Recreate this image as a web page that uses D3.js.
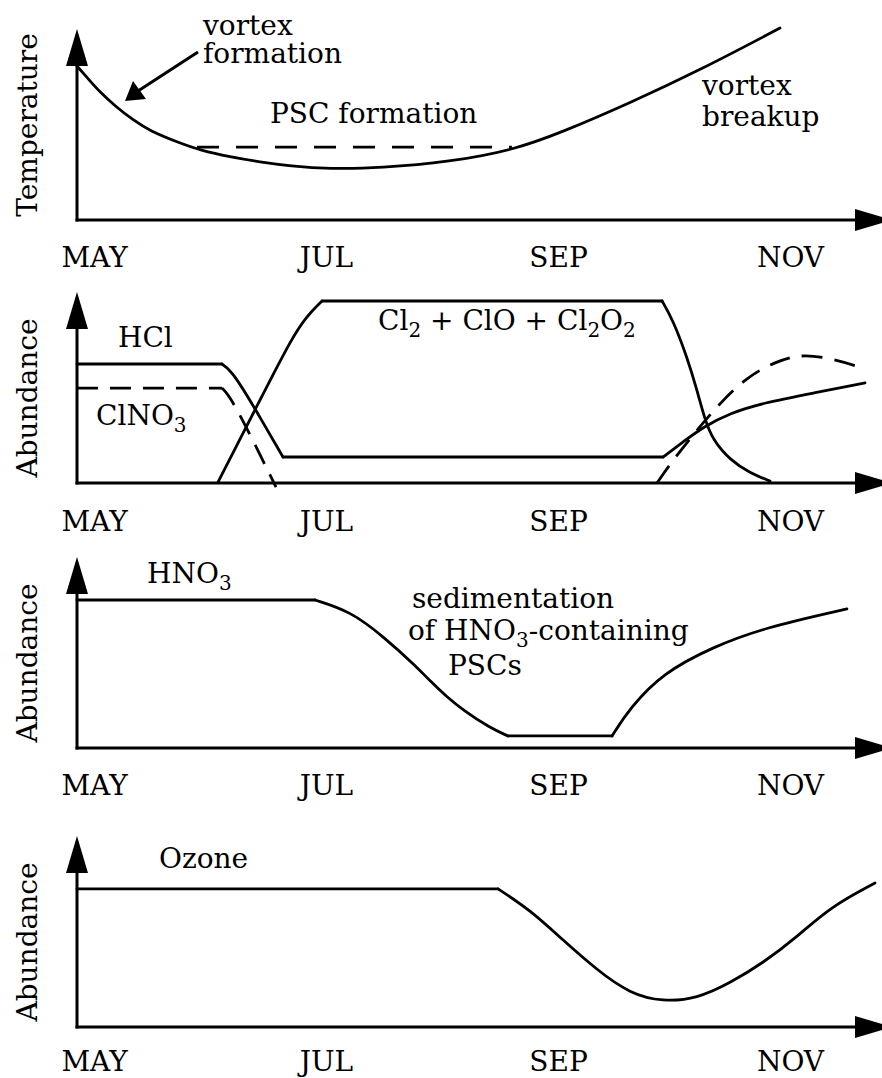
<!DOCTYPE html>
<html>
<head>
<meta charset="utf-8">
<script src="https://cdn.jsdelivr.net/npm/d3@7"></script>
<style>
  body { margin: 0; background: #fff; }
  svg { display: block; }
</style>
</head>
<body>
<script>
// month axis: 0 = MAY ... 6 = NOV
var months = ["MAY", "JUL", "SEP", "NOV"];
var monthTicks = [0, 2, 4, 6];

// each series is a list of pieces, each piece a list of [month, relative value 0..100]
var temperature = [[[-0.147, 80.6], [-0.034, 72.8], [0.052, 67.0], [0.181, 59.7], [0.336, 52.4],
    [0.483, 46.6], [0.741, 40.3], [0.914, 36.6], [1.172, 33.0], [1.431, 30.4], [1.690, 28.3],
    [2.034, 26.7], [2.466, 27.2], [3.069, 30.4], [3.612, 36.6], [4.017, 45.5], [4.621, 61.3],
    [5.224, 78.5], [5.914, 100.5]]];
var pscThreshold = [[[0.888, 38.2], [3.603, 38.2]]];

var hcl = [
    [[-0.147, 62.3], [1.103, 62.3]],
    [[1.103, 62.3], [1.198, 58.1], [1.405, 37.2], [1.629, 13.6]],
    [[1.629, 13.6], [4.905, 13.6]],
    [[4.905, 13.6], [5.078, 21.5], [5.250, 29.3], [5.483, 36.6], [5.767, 41.9], [6.198, 47.1], [6.647, 52.4]]
];
var clno3 = [
    [[-0.147, 49.7], [1.103, 49.7]],
    [[1.103, 49.7], [1.190, 44.5], [1.569, -2.1]],
    [[4.853, 0], [4.991, 12.0], [5.198, 27.7], [5.397, 41.9], [5.629, 55.5],
        [5.871, 63.4], [6.086, 67.5], [6.345, 65.4], [6.629, 60.2]]
];
var activeCl = [
    [[1.069, 0.5], [1.241, 20.9], [1.414, 41.4], [1.560, 58.6], [1.690, 73.8], [1.819, 86.4], [1.966, 95.3]],
    [[1.966, 95.3], [4.897, 95.3]],
    [[4.897, 95.3], [4.991, 85.3], [5.112, 66.0], [5.198, 48.7], [5.267, 33.0], [5.336, 22.5],
        [5.483, 12.0], [5.655, 5.2], [5.828, 1.0]]
];

var hno3 = [
    [[-0.147, 77.5], [1.905, 77.5]],
    [[1.905, 77.5], [2.207, 71.7], [2.491, 58.6], [2.784, 42.4], [2.897, 35.1], [3.043, 26.7],
        [3.181, 19.9], [3.414, 10.5], [3.569, 6.3]],
    [[3.569, 6.3], [4.466, 6.3]],
    [[4.466, 6.3], [4.621, 21.0], [4.905, 39.3], [5.336, 52.9], [5.767, 62.8], [6.491, 72.8]]
];

var ozone = [
    [[-0.147, 72.3], [3.483, 72.3]],
    [[3.483, 72.3], [3.759, 61.3], [4.043, 45.5], [4.336, 29.8], [4.621, 17.4], [4.905, 13.2],
        [5.198, 14.8], [5.483, 23.0], [5.767, 33.5], [6.060, 47.1], [6.345, 62.8], [6.733, 75.4]]
];

var FONT = "DejaVu Serif";
var FS = 28;

var svg = d3.select("body").append("svg")
    .attr("width", 882)
    .attr("height", 1078);

var x = d3.scaleLinear().domain([0, 6]).range([94, 790]);
var x0 = 77;

function panel(axisY, title, titleShift, labelPad) {
    var y = d3.scaleLinear().domain([0, 100]).range([axisY, axisY - 191]);
    var g = svg.append("g");

    // axes with arrow heads
    g.append("line")
        .attr("x1", x0 - 1.5).attr("x2", 860)
        .attr("y1", axisY).attr("y2", axisY)
        .attr("stroke", "#000").attr("stroke-width", 3);
    g.append("line")
        .attr("x1", x0).attr("x2", x0)
        .attr("y1", axisY + 1.5).attr("y2", axisY - 160)
        .attr("stroke", "#000").attr("stroke-width", 3);
    g.append("path")
        .attr("d", "M" + x0 + "," + (axisY - 191) + "L" + (x0 - 11) + "," + (axisY - 154)
            + "L" + (x0 + 11) + "," + (axisY - 154) + "Z")
        .attr("fill", "#000");
    g.append("path")
        .attr("d", "M892," + axisY + "L855," + (axisY - 11) + "L855," + (axisY + 11) + "Z")
        .attr("fill", "#000");

    // month labels
    g.append("g")
        .attr("transform", "translate(0," + axisY + ")")
        .call(d3.axisBottom(x).tickValues(monthTicks)
            .tickFormat(function (d, i) { return months[i]; })
            .tickSize(0).tickPadding(labelPad))
        .call(function (a) { a.select(".domain").remove(); })
        .attr("font-family", FONT)
        .attr("font-size", FS);

    g.append("text")
        .attr("transform", "translate(37," + (axisY - 95 + titleShift) + ") rotate(-90)")
        .attr("text-anchor", "middle")
        .attr("font-family", FONT)
        .attr("font-size", FS)
        .text(title);

    return y;
}

function drawSeries(y, pieces, dash) {
    var line = d3.line()
        .x(function (d) { return x(d[0]); })
        .y(function (d) { return y(d[1]); })
        .curve(d3.curveBasis);
    svg.append("g")
        .selectAll("path")
        .data(pieces)
        .enter().append("path")
        .attr("d", line)
        .attr("fill", "none")
        .attr("stroke", "#000")
        .attr("stroke-width", 2.8)
        .attr("stroke-linecap", dash ? "butt" : "round")
        .attr("stroke-linejoin", "round")
        .attr("stroke-dasharray", dash || null);
}

function label(px, py, parts) {
    var t = svg.append("text")
        .attr("x", px).attr("y", py)
        .attr("font-family", FONT)
        .attr("font-size", FS);
    var shift = 0;
    parts.forEach(function (p) {
        if (typeof p === "string") {
            t.append("tspan").attr("dy", shift ? -shift : null).text(p);
            shift = 0;
        } else {
            t.append("tspan").attr("dy", 7).attr("font-size", 20).text(p.sub);
            shift = 7;
        }
    });
}

// Temperature panel
var y1 = panel(220, "Temperature", 0, 27);
drawSeries(y1, temperature);
drawSeries(y1, pscThreshold, "22,17");
label(203, 35, ["vortex"]);
label(203, 63, ["formation"]);
label(270, 123, ["PSC formation"]);
label(702, 95, ["vortex"]);
label(702, 126, ["breakup"]);
svg.append("line")
    .attr("x1", 198).attr("y1", 52).attr("x2", 138).attr("y2", 91)
    .attr("stroke", "#000").attr("stroke-width", 3);
svg.append("path")
    .attr("d", "M125,101L133,81L146,99Z")
    .attr("fill", "#000");

// Chlorine panel
var y2 = panel(483, "Abundance", 10, 28);
drawSeries(y2, hcl);
drawSeries(y2, clno3, "21,12");
drawSeries(y2, activeCl);
label(118, 347, ["HCl"]);
label(96, 425, ["ClNO", { sub: "3" }]);
label(378, 330, ["Cl", { sub: "2" }, " + ClO + Cl", { sub: "2" }, "O", { sub: "2" }]);

// HNO3 panel
var y3 = panel(748, "Abundance", 10, 27);
drawSeries(y3, hno3);
label(147, 583, ["HNO", { sub: "3" }]);
label(412, 608, ["sedimentation"]);
label(408, 640, ["of HNO", { sub: "3" }, "-containing"]);
label(448, 675, ["PSCs"]);

// Ozone panel
var y4 = panel(1027, "Abundance", 10, 24);
drawSeries(y4, ozone);
label(159, 868, ["Ozone"]);
</script>
</body>
</html>
